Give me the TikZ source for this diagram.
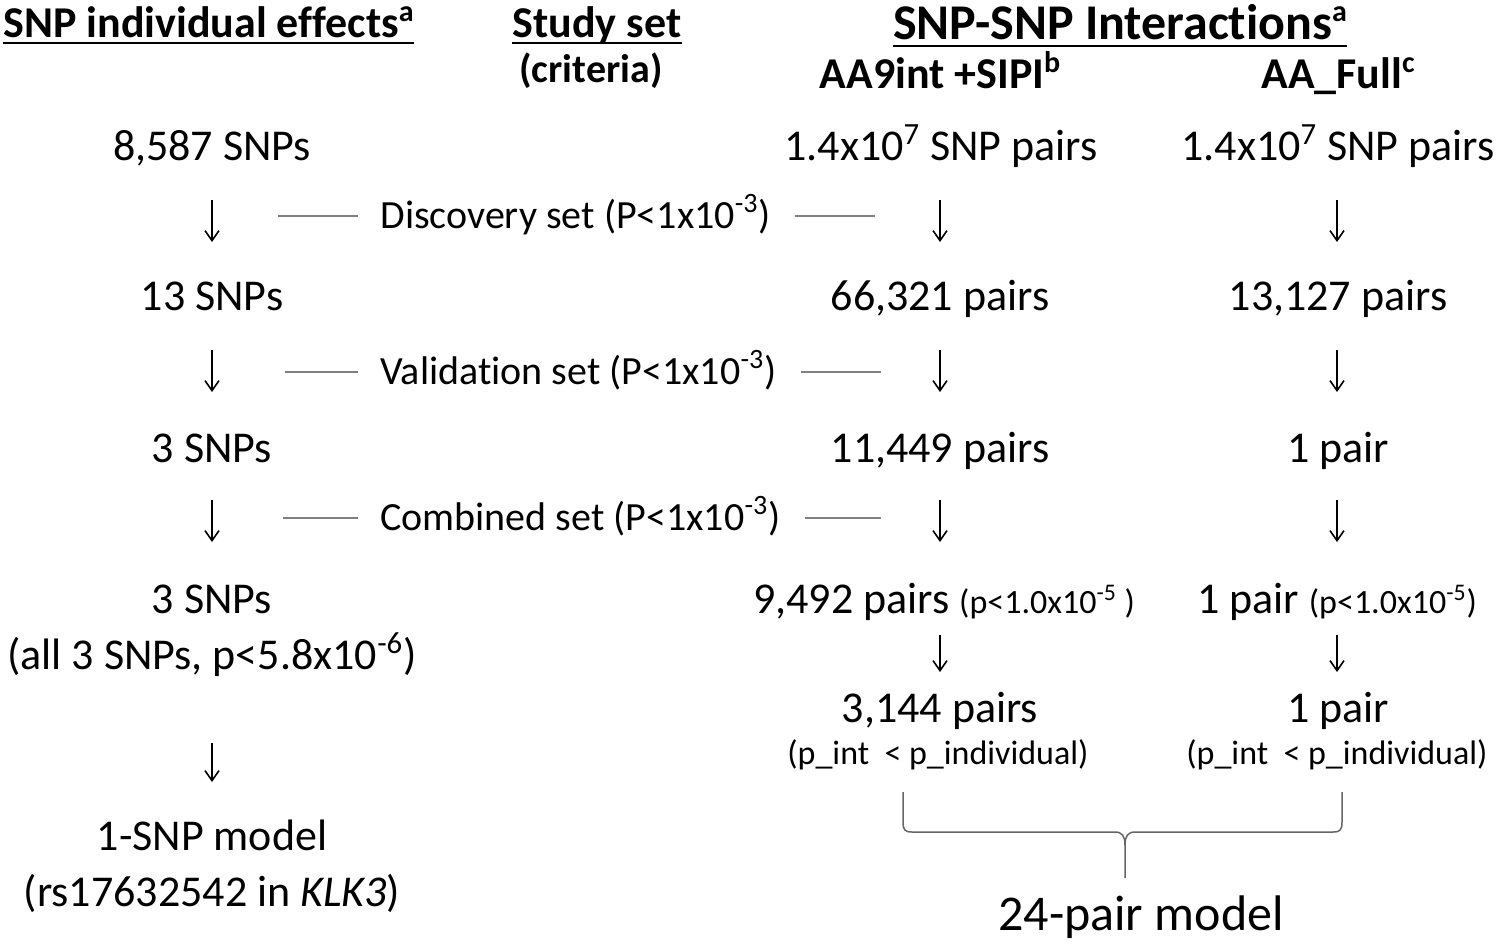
\documentclass[tikz,border=0pt]{standalone}
\usepackage{fontspec}
\setmainfont{Carlito}[Ligatures={NoCommon,NoContextual}]
\usetikzlibrary{arrows.meta,calc}
\newcommand{\hsup}[1]{\raisebox{0.36em}{\fontsize{15}{16}\selectfont #1}}
\begin{document}
\begin{tikzpicture}[x=0.5pt,y=-0.5pt,
  txt/.style={font=\fontsize{22}{26}\selectfont, inner sep=0pt, anchor=base},
  crit/.style={font=\fontsize{20}{24}\selectfont, inner sep=0pt, anchor=base west},
  hdr/.style={font=\fontsize{22}{26}\selectfont\bfseries, inner sep=0pt, anchor=base},
  bighdr/.style={font=\fontsize{25}{30}\selectfont\bfseries, inner sep=0pt, anchor=base},
  small/.style={font=\fontsize{17}{20}\selectfont, inner sep=0pt, anchor=base},
  arr/.style={line width=0.8pt, -{Straight Barb[length=5pt,width=7pt,line width=0.8pt]}},
  rule/.style={draw=black!50, line width=0.9pt},
  uline/.style={line width=1.4pt},
  brace/.style={draw=black!60, line width=0.75pt}]
\useasboundingbox (0,0) rectangle (1499,943);
\fill[white] (0,0) rectangle (1499,943);

% headers
\node[hdr, anchor=base west] (h1) at (3,37) {SNP individual effects\hsup{a}};
\node[hdr] (h2) at (597,37) {Study set};
\node[hdr, font=\fontsize{20}{24}\selectfont\bfseries] (h2b) at (591,82) {(criteria)};
\node[bighdr] (h3) at (1120,39) {SNP-SNP Interactions\hsup{a}};
\node[hdr] (h4) at (940,88) {AA9int +SIPI\hsup{b}};
\node[hdr] (h5) at (1338,88) {AA\_Full\hsup{c}};
\draw[uline] ([yshift=-3pt]h1.base west) -- ([yshift=-3pt]h1.base east);
\draw[uline] ([yshift=-3pt]h2.base west) -- ([yshift=-3pt]h2.base east);
\draw[uline] ([yshift=-3.5pt]h3.base west) -- ([yshift=-3.5pt]h3.base east);

% rows
\node[txt] (l1) at (212,160) {8,587 SNPs};
\node[txt] (m1) at (941,160) {1.4x10\textsuperscript{7} SNP pairs};
\node[txt] (r1) at (1338,160) {1.4x10\textsuperscript{7} SNP pairs};
\node[txt] (l2) at (212,310) {13 SNPs};
\node[txt] (m2) at (940,310) {66,321 pairs};
\node[txt] (r2) at (1338,310) {13,127 pairs};
\node[txt] (l3) at (212,462) {3 SNPs};
\node[txt] (m3) at (940,462) {11,449 pairs};
\node[txt] (r3) at (1338,462) {1 pair};
\node[txt] (l4) at (212,613) {3 SNPs};
\node[txt] (l4b) at (212,669) {(all 3 SNPs, p<5.8x10\textsuperscript{-6})};
\node[txt] (m4) at (944,613) {9,492 pairs {\fontsize{17}{20}\selectfont(p<1.0x10\textsuperscript{-5} )}};
\node[txt] (r4) at (1337,613) {1 pair {\fontsize{17}{20}\selectfont(p<1.0x10\textsuperscript{-5})}};
\node[txt] (m5) at (940,722) {3,144 pairs};
\node[small] (m5b) at (938,764) {(p\_int\ \ < p\_individual)};
\node[txt] (r5) at (1338,722) {1 pair};
\node[small] (r5b) at (1337,764) {(p\_int\ \ < p\_individual)};
\node[txt] (l5) at (212,850) {1-SNP model};
\node[txt] (l5b) at (212,906) {(rs17632542 in \textit{KLK3})};
\node[txt, font=\fontsize{25}{30}\selectfont] (fin) at (1141,930) {24-pair model};

% criteria
\node[crit] (c1) at (380,228) {Discovery set (P<1x10\textsuperscript{-3})};
\node[crit] (c2) at (380,384) {Validation set (P<1x10\textsuperscript{-3})};
\node[crit] (c3) at (380,530) {Combined set (P<1x10\textsuperscript{-3})};
\draw[rule] ($(c1.base west)+(-102,-12)$) -- ++(80,0);
\draw[rule] ($(c1.base east)+(24,-12)$) -- ++(80,0);
\draw[rule] ($(c2.base west)+(-95,-12)$) -- ++(73,0);
\draw[rule] ($(c2.base east)+(24,-12)$) -- ++(80,0);
\draw[rule] ($(c3.base west)+(-97,-12)$) -- ++(75,0);
\draw[rule] ($(c3.base east)+(24,-12)$) -- ++(76,0);

% arrows
\draw[arr] ($(l1.base)+(0,40)$) -- ($(l2.base)+(0,-68)$);
\draw[arr] ($(m1.base)+(-1,40)$) -- ($(m2.base)+(0,-68)$);
\draw[arr] ($(r1.base)+(-1,40)$) -- ($(r2.base)+(-1,-68)$);
\draw[arr] ($(l2.base)+(0,40)$) -- ($(l3.base)+(0,-70)$);
\draw[arr] ($(m2.base)+(0,40)$) -- ($(m3.base)+(0,-70)$);
\draw[arr] ($(r2.base)+(-1,40)$) -- ($(r3.base)+(-1,-70)$);
\draw[arr] ($(l3.base)+(0,38)$) -- ($(l4.base)+(0,-71)$);
\draw[arr] ($(m3.base)+(0,38)$) -- ($(m4.base)+(-4,-71)$);
\draw[arr] ($(r3.base)+(-1,38)$) -- ($(r4.base)+(0,-71)$);
\draw[arr] ($(m4.base)+(-4,22)$) -- ($(m5.base)+(0,-50)$);
\draw[arr] ($(r4.base)+(0,22)$) -- ($(r5.base)+(-1,-50)$);
\draw[arr] ($(l4b.base)+(0,74)$) -- ($(l5.base)+(0,-68)$);

% brace
\coordinate (bl) at (903,792);
\coordinate (br) at (1342,792);
\coordinate (bt) at (1125,878);
\draw[brace] (bl) -- (903,822) .. controls (903,830) and (905,832) .. (912,832) -- (1115,832) .. controls (1122,832) and (1125,836) .. (1125,845) -- (bt);
\draw[brace] (1125,845) .. controls (1125,836) and (1128,832) .. (1135,832) -- (1333,832) .. controls (1340,832) and (1342,830) .. (1342,822) -- (br);
\end{tikzpicture}
\end{document}
